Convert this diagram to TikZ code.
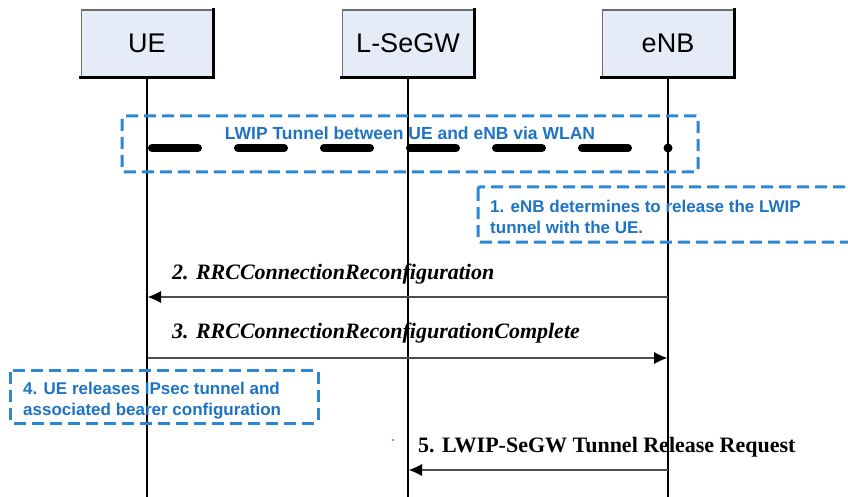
\documentclass[tikz,border=0pt]{standalone}
\usepackage{fontspec}
\setmainfont{Liberation Serif}
\newfontfamily\arialf{Liberation Sans}
\usetikzlibrary{arrows.meta}
\definecolor{lblue}{RGB}{45,135,210}
\definecolor{tblue}{RGB}{30,115,195}
\definecolor{boxfill}{RGB}{230,236,247}
\begin{document}
\begin{tikzpicture}[x=1pt,y=-1pt,
 actor/.style={fill=boxfill, draw=gray!85!black, line width=1.5pt, minimum width=131pt, minimum height=67pt, font=\arialf\fontsize{27}{30}\selectfont, inner sep=0pt},
 shadowline/.style={line width=3pt, line cap=rect},
 lifeline/.style={line width=2pt},
 note/.style={draw=lblue, line width=3pt, dash pattern=on 12pt off 6pt, rounded corners=2pt},
 notetext/.style={text=tblue, font=\arialf\bfseries\fontsize{17}{21}\selectfont, align=left, anchor=west, inner sep=0pt},
 msg/.style={draw=black!70, line width=2pt, -{Latex[length=13pt,width=12pt,fill=black,line width=0pt]}},
 msgtext/.style={font=\bfseries\itshape\fontsize{22}{24}\selectfont, anchor=west, inner sep=0pt},
]
\useasboundingbox (0,0) rectangle (848,497);

% actors
\node[actor] (ue) at (147,43.5) {UE};
\node[actor] (lsegw) at (408,43.5) {L-SeGW};
\node[actor] (enb) at (668,43.5) {eNB};
\foreach \a in {ue,lsegw,enb}{
  \draw[shadowline] (\a.north east) -- (\a.south east) -- (\a.south west);
}

% lifeline ends
\coordinate (ueend) at (147,497);
\coordinate (lsegwend) at (408,497);
\coordinate (enbend) at (668,497);
\draw[lifeline] (ue.south) -- (ueend);
\draw[lifeline] (lsegw.south) -- (lsegwend);
\draw[lifeline] (enb.south) -- (enbend);

% tunnel
\node[note, minimum width=576pt, minimum height=56pt] (tunnelbox) at (410,144) {};
\node[notetext, anchor=center, font=\arialf\bfseries\fontsize{17.5}{21}\selectfont] (tunneltext) at (410,133) {LWIP Tunnel between UE and eNB via WLAN};
\coordinate (tunstart) at (152,148);
\coordinate (tunend) at (628,148);
\coordinate (tundot) at (668,148);
\draw[line width=8pt, line cap=round, dash pattern=on 46pt off 40pt] (tunstart) -- (tunend);
\fill (tundot) circle (4.5);

% note 1
\draw[note] (478,187) rectangle (870,242);
\node[notetext] (note1) at (490,217) {1. eNB determines to release the LWIP\\tunnel with the UE.};

% message 2
\coordinate (enb2) at (668,297);
\coordinate (ue2) at (148,297);
\draw[msg] (enb2) -- (ue2);
\node[msgtext] (m2) at (172,274) {2. RRCConnectionReconfiguration};

% message 3
\coordinate (ue3) at (148,358);
\coordinate (enb3) at (667,358);
\draw[msg, line width=2.5pt] (ue3) -- (enb3);
\node[msgtext] (m3) at (172,333) {3. RRCConnectionReconfigurationComplete};

% note 4
\draw[note] (10,370) rectangle (318,423);
\node[notetext] (note4) at (23,401) {4. UE releases IPsec tunnel and\\associated bearer configuration};

% message 5
\coordinate (enb5) at (668,470);
\coordinate (lsegw5) at (409,470);
\draw[msg] (enb5) -- (lsegw5);
\node[font=\bfseries\fontsize{22}{24}\selectfont, anchor=west, inner sep=0pt] (m5) at (418,447) {5. LWIP-SeGW Tunnel Release Request};
\fill[lblue] (393,440) circle (1.2);
\end{tikzpicture}
\end{document}
